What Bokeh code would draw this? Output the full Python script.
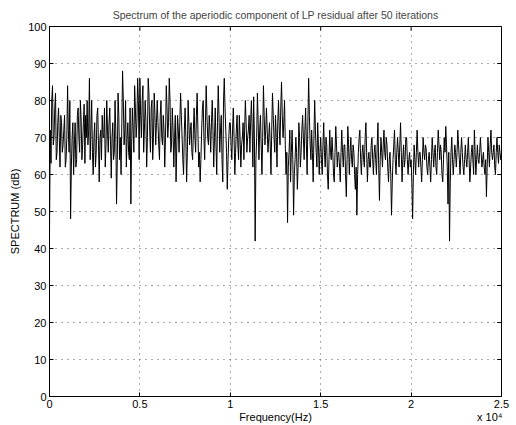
from bokeh.plotting import figure
from bokeh.models import Range1d, FixedTicker, LinearAxis
from bokeh.embed import file_html
from bokeh.resources import INLINE

# Spectrum values (dB), 24 samples per 1000 Hz band
band_00 = [44, 72, 63, 80, 84, 68, 70, 78, 82, 64, 66, 74, 78, 70, 62, 76, 74, 66, 68, 72, 76, 62, 64, 70]
band_01 = [84, 72, 66, 80, 48, 62, 70, 74, 60, 68, 74, 62, 64, 76, 78, 70, 66, 80, 75, 64, 68, 74, 79, 63]
band_02 = [76, 70, 80, 68, 72, 86, 64, 72, 80, 66, 60, 70, 74, 62, 66, 76, 78, 68, 58, 70, 72, 64, 76, 70]
band_03 = [70, 78, 62, 68, 80, 72, 66, 74, 78, 68, 59, 70, 74, 64, 66, 80, 72, 52, 64, 82, 76, 64, 70, 60]
band_04 = [74, 88, 80, 68, 72, 80, 62, 70, 74, 66, 64, 78, 52, 68, 78, 72, 66, 84, 78, 70, 74, 86, 80, 64]
band_05 = [86, 76, 70, 80, 84, 66, 72, 80, 74, 62, 70, 86, 82, 72, 66, 78, 80, 64, 70, 82, 76, 68, 74, 80]
band_06 = [74, 68, 64, 76, 80, 70, 68, 76, 72, 62, 70, 84, 78, 70, 74, 86, 80, 66, 68, 78, 72, 62, 70, 76]
band_07 = [58, 68, 76, 72, 66, 74, 82, 76, 70, 64, 60, 72, 78, 70, 58, 66, 80, 74, 68, 72, 74, 66, 64, 72]
band_08 = [78, 70, 66, 76, 82, 72, 62, 66, 58, 64, 72, 78, 80, 70, 64, 74, 84, 76, 70, 68, 76, 72, 66, 74]
band_09 = [80, 72, 62, 70, 78, 68, 60, 74, 84, 76, 66, 72, 76, 64, 58, 80, 86, 78, 72, 66, 56, 64, 70, 74]
band_10 = [74, 68, 64, 72, 78, 70, 60, 66, 72, 76, 68, 64, 76, 70, 62, 68, 70, 74, 64, 72, 80, 74, 66, 70]
band_11 = [72, 76, 66, 74, 80, 72, 62, 81, 70, 42, 64, 70, 82, 74, 64, 72, 76, 68, 60, 70, 84, 76, 68, 72]
band_12 = [78, 72, 66, 70, 74, 68, 60, 72, 82, 76, 70, 66, 76, 70, 62, 74, 80, 72, 68, 78, 85, 76, 70, 74]
band_13 = [80, 68, 60, 66, 47, 62, 66, 72, 58, 66, 72, 64, 49, 60, 64, 70, 66, 56, 62, 74, 70, 62, 66, 72]
band_14 = [76, 70, 64, 72, 78, 68, 60, 74, 86, 76, 68, 64, 72, 66, 58, 70, 80, 72, 66, 62, 74, 68, 60, 66]
band_15 = [70, 64, 60, 68, 74, 66, 62, 70, 68, 60, 56, 64, 72, 66, 64, 70, 66, 60, 58, 66, 73, 68, 62, 66]
band_16 = [66, 62, 58, 66, 72, 66, 62, 68, 68, 60, 54, 64, 73, 68, 60, 66, 70, 64, 62, 68, 66, 60, 56, 62]
band_17 = [49, 60, 66, 70, 72, 64, 60, 66, 68, 64, 62, 70, 74, 66, 58, 64, 66, 62, 62, 68, 70, 64, 60, 66]
band_18 = [68, 64, 60, 68, 74, 62, 53, 64, 70, 66, 62, 68, 72, 66, 64, 70, 68, 62, 58, 64, 66, 60, 49, 58]
band_19 = [64, 68, 72, 64, 60, 66, 70, 66, 62, 68, 74, 66, 58, 64, 68, 62, 64, 70, 70, 64, 60, 64, 66, 62]
band_20 = [64, 58, 48, 60, 68, 64, 60, 66, 72, 66, 62, 66, 66, 62, 58, 64, 70, 66, 64, 68, 67, 62, 60, 64]
band_21 = [66, 62, 58, 64, 70, 66, 62, 66, 68, 62, 60, 66, 72, 68, 64, 68, 66, 60, 58, 64, 70, 66, 73, 68]
band_22 = [62, 52, 66, 42, 58, 66, 70, 64, 60, 64, 68, 66, 62, 66, 72, 68, 64, 60, 66, 70, 66, 62, 60, 64]
band_23 = [68, 64, 62, 66, 70, 64, 58, 62, 66, 68, 64, 60, 72, 66, 60, 64, 68, 64, 63, 66, 70, 66, 62, 64]
band_24 = [66, 62, 60, 64, 54, 62, 70, 66, 62, 68, 72, 66, 64, 66, 68, 62, 60, 66, 70, 66, 63, 68, 66, 64]
last_value = [65]

spectrum_db = (band_00 + band_01 + band_02 + band_03 + band_04 + band_05 + band_06 +
               band_07 + band_08 + band_09 + band_10 + band_11 + band_12 + band_13 +
               band_14 + band_15 + band_16 + band_17 + band_18 + band_19 + band_20 +
               band_21 + band_22 + band_23 + band_24 + last_value)

max_freq_hz = 25000
freq_step_hz = max_freq_hz / (len(spectrum_db) - 1)
freq_hz = [i * freq_step_hz for i in range(len(spectrum_db))]

x_ticks = [0, 5000, 10000, 15000, 20000, 25000]
x_tick_labels = ["0", "0.5", "1", "1.5", "2", "2.5"]
y_ticks = [0, 10, 20, 30, 40, 50, 60, 70, 80, 90, 100]
x_label_text = "Frequency(Hz)"
x_exponent_text = "x 10⁴"
# second row under the tick labels: axis name in the middle, exponent at the right end
second_row_ticks = [12500, 24350]
second_row_labels = [x_label_text, x_exponent_text]

FONT = "Liberation Sans"

p = figure(width=516, height=425, output_backend="svg", toolbar_location=None,
           x_range=Range1d(0, max_freq_hz), y_range=Range1d(0, 100),
           title="Spectrum of the aperiodic component of LP residual after 50 iterations",
           min_border_left=49, min_border_right=15, min_border_top=0, min_border_bottom=0)

p.title.align = "center"
p.title.text_font = FONT
p.title.text_font_size = "10.5px"
p.title.text_font_style = "normal"
p.title.standoff = 12

p.line(freq_hz, spectrum_db, line_color="black", line_width=1.0)

p.outline_line_color = "black"
p.outline_line_width = 1
p.background_fill_color = "white"
p.border_fill_color = "white"

p.xaxis.ticker = FixedTicker(ticks=x_ticks)
p.xaxis.major_label_overrides = {t: l for t, l in zip(x_ticks, x_tick_labels)}
p.yaxis.ticker = FixedTicker(ticks=y_ticks)

for ax in [p.xaxis[0], p.yaxis[0]]:
    ax.major_tick_in = 4
    ax.major_tick_out = 0
    ax.minor_tick_line_color = None
    ax.axis_line_color = "black"
    ax.major_tick_line_color = "black"
    ax.major_label_text_font = FONT
    ax.major_label_text_font_size = "11px"
    ax.major_label_text_color = "black"
    ax.axis_label_text_font = FONT
    ax.axis_label_text_font_size = "11px"
    ax.axis_label_text_font_style = "normal"
    ax.axis_label_text_color = "black"
    ax.major_label_standoff = 3

p.yaxis.axis_label = "SPECTRUM (dB)"
p.yaxis.axis_label_standoff = 4

label_axis = LinearAxis(ticker=FixedTicker(ticks=second_row_ticks),
                        major_label_overrides={t: l for t, l in zip(second_row_ticks, second_row_labels)},
                        major_tick_in=0, major_tick_out=0, minor_tick_in=0, minor_tick_out=0,
                        major_tick_line_color=None, minor_tick_line_color=None, axis_line_color=None,
                        major_label_standoff=0, major_label_text_font=FONT,
                        major_label_text_font_size="11px", major_label_text_color="black")
p.add_layout(label_axis, "below")

# inward tick marks on the top and right box edges (MATLAB style box)
tick_len_db = 1.1
tick_len_hz = 240
p.segment(x0=x_ticks, y0=[100] * len(x_ticks), x1=x_ticks, y1=[100 - tick_len_db] * len(x_ticks),
          line_color="black", line_width=1)
p.segment(x0=[max_freq_hz] * len(y_ticks), y0=y_ticks, x1=[max_freq_hz - tick_len_hz] * len(y_ticks),
          y1=y_ticks, line_color="black", line_width=1)

p.xgrid.ticker = FixedTicker(ticks=x_ticks)
p.ygrid.ticker = FixedTicker(ticks=y_ticks)
for g in [p.xgrid[0], p.ygrid[0]]:
    g.grid_line_color = "black"
    g.grid_line_dash = "1 5"
    g.grid_line_alpha = 0.65
    g.grid_line_width = 1

open("out.html", "w").write(file_html(p, INLINE))
